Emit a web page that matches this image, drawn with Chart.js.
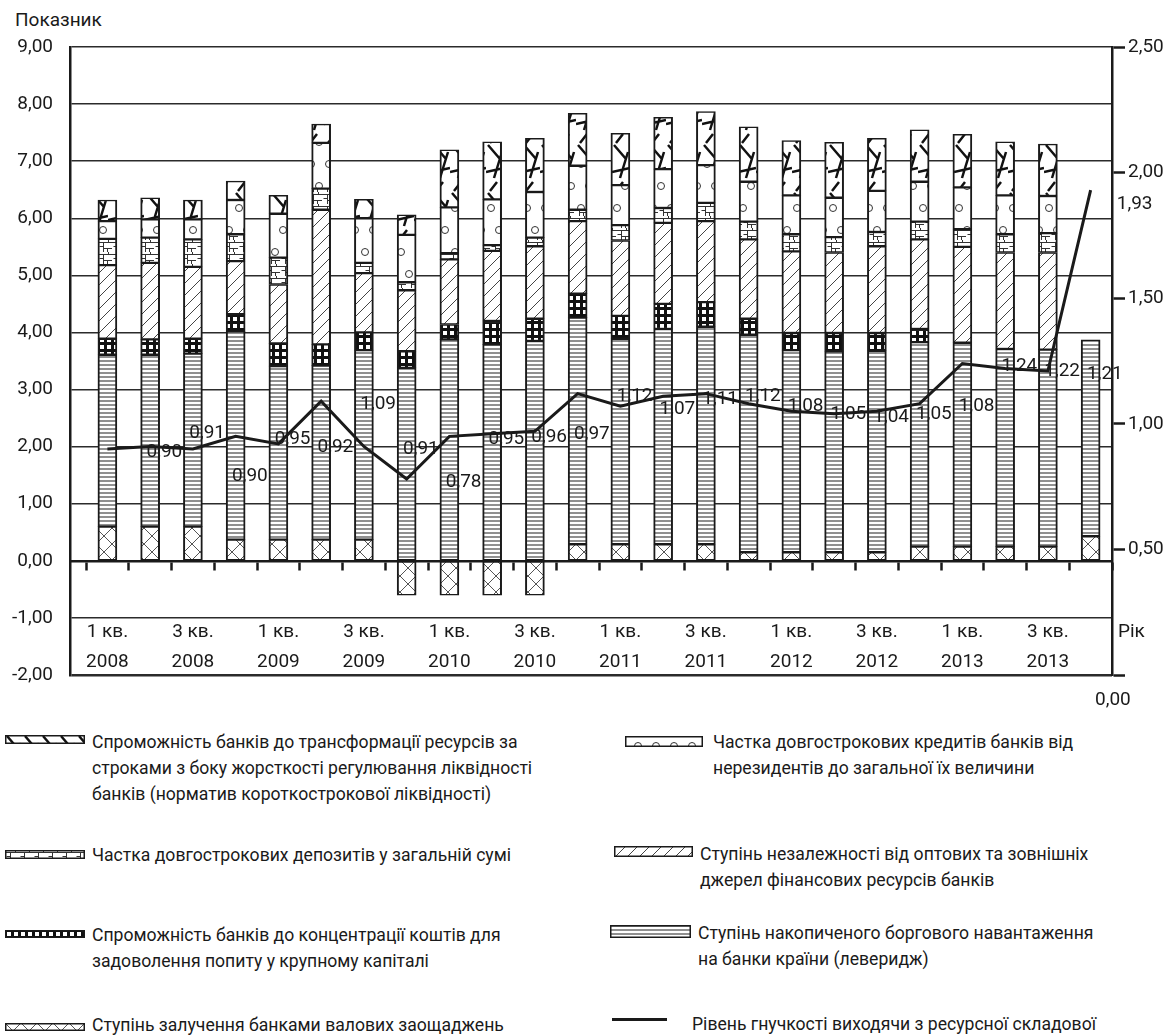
<!DOCTYPE html>
<html lang="uk">
<head>
<meta charset="utf-8">
<title>Рівень гнучкості банків виходячи з ресурсної складової</title>
<script src="https://cdn.jsdelivr.net/npm/chart.js@4.4.1/dist/chart.umd.min.js"></script>
<style>
  html, body { margin: 0; padding: 0; background: #fff; }
  #page { position: relative; width: 1172px; height: 1035px; overflow: hidden;
          font-family: Roboto, "Liberation Sans", sans-serif; color: #1a1a1a; }
  #chartBox { position: absolute; left: 0; top: 0; width: 1172px; height: 720px; }
  #yTitle { position: absolute; left: 15px; top: 8px; font-size: 19px; line-height: 24px; }
  .leg { position: absolute; font-size: 17.6px; line-height: 26px; white-space: nowrap; }
  .sw { position: absolute; display: block; }
</style>
</head>
<body>
<div id="page">
  <div id="yTitle">Показник</div>
  <div id="chartBox"><canvas id="c" width="1172" height="720"></canvas></div>
</div>
<script>
// Quarters 2008 Q1 – 2013 Q4
const quarters = ['1 кв.', '2 кв.', '3 кв.', '4 кв.', '1 кв.', '2 кв.', '3 кв.', '4 кв.',
                  '1 кв.', '2 кв.', '3 кв.', '4 кв.', '1 кв.', '2 кв.', '3 кв.', '4 кв.',
                  '1 кв.', '2 кв.', '3 кв.', '4 кв.', '1 кв.', '2 кв.', '3 кв.', '4 кв.'];
const years = ['2008', '2008', '2008', '2008', '2009', '2009', '2009', '2009',
               '2010', '2010', '2010', '2010', '2011', '2011', '2011', '2011',
               '2012', '2012', '2012', '2012', '2013', '2013', '2013', '2013'];

// Stacked components (left axis), bottom to top
const savingsShare = [0.60, 0.60, 0.60, 0.37, 0.37, 0.37, 0.37, -0.60, -0.60, -0.60, -0.60, 0.29,
                      0.29, 0.29, 0.29, 0.15, 0.15, 0.15, 0.15, 0.25, 0.25, 0.25, 0.25, 0.43];
const leverage = [3.01, 3.01, 3.03, 3.65, 3.04, 3.05, 3.32, 3.38, 3.88, 3.79, 3.85, 3.97,
                  3.60, 3.77, 3.81, 3.81, 3.54, 3.52, 3.53, 3.58, 3.57, 3.46, 3.45, 3.44];
const capitalConcentration = [0.28, 0.27, 0.26, 0.30, 0.40, 0.37, 0.31, 0.29, 0.26, 0.41, 0.39, 0.42,
                              0.40, 0.44, 0.43, 0.28, 0.30, 0.32, 0.31, 0.23, 0, 0, 0, null];
const independence = [1.29, 1.34, 1.26, 0.93, 1.03, 2.36, 1.04, 1.07, 1.14, 1.23, 1.27, 1.27,
                      1.32, 1.42, 1.42, 1.39, 1.43, 1.41, 1.52, 1.57, 1.68, 1.69, 1.70, null];
const longDeposits = [0.46, 0.44, 0.48, 0.47, 0.47, 0.37, 0.18, 0.14, 0.11, 0.10, 0.15, 0.20,
                      0.27, 0.26, 0.32, 0.31, 0.30, 0.27, 0.25, 0.31, 0.31, 0.32, 0.34, null];
const nonResidentLoans = [0.31, 0.32, 0.35, 0.60, 0.77, 0.80, 0.78, 0.83, 0.80, 0.80, 0.80, 0.77,
                          0.70, 0.68, 0.66, 0.70, 0.68, 0.69, 0.72, 0.70, 0.73, 0.68, 0.65, null];
const maturityTransformation = [0.37, 0.38, 0.34, 0.33, 0.32, 0.33, 0.33, 0.35, 1.01, 1.01, 0.94, 0.92,
                                0.91, 0.91, 0.94, 0.96, 0.96, 0.97, 0.92, 0.91, 0.93, 0.94, 0.91, null];

// Flexibility level (right axis)
const flexibility = [0.90, 0.91, 0.90, 0.95, 0.92, 1.09, 0.91, 0.78, 0.95, 0.96, 0.97, 1.12,
                     1.07, 1.11, 1.12, 1.08, 1.05, 1.04, 1.05, 1.08, 1.24, 1.22, 1.21, 1.93];

const leftTicks = { min: -2, max: 9, step: 1 };
const rightTicks = { min: 0, max: 2.5, step: 0.5 };

const seriesNames = {
  maturityTransformation: 'Спроможність банків до трансформації ресурсів за строками з боку жорсткості регулювання ліквідності банків (норматив короткострокової ліквідності)',
  nonResidentLoans: 'Частка довгострокових кредитів банків від нерезидентів до загальної їх величини',
  longDeposits: 'Частка довгострокових депозитів у загальній сумі',
  independence: 'Ступінь незалежності від оптових та зовнішніх джерел фінансових ресурсів банків',
  capitalConcentration: 'Спроможність банків до концентрації коштів для задоволення попиту у крупному капіталі',
  leverage: 'Ступінь накопиченого боргового навантаження на банки країни (леверидж)',
  savingsShare: 'Ступінь залучення банками валових заощаджень',
  flexibility: 'Рівень гнучкості виходячи з ресурсної складової'
};

const fmt = v => v.toFixed(2).replace('.', ',');
const INK = '#1a1a1a';

// ---- monochrome fill patterns ----
function makeTile(kind) {
  const sizes = { cross: [16, 16], hlines: [4, 4], grid: [7, 7], diag: [12, 12],
                  brick: [14, 12], circles: [18, 44], random: [18, 48] };
  const [w, h] = sizes[kind];
  const t = document.createElement('canvas');
  t.width = w; t.height = h;
  const g = t.getContext('2d');
  g.fillStyle = '#fff'; g.fillRect(0, 0, w, h);
  g.strokeStyle = '#333'; g.lineWidth = 1;
  const seg = (pts) => { g.beginPath(); for (let i = 0; i < pts.length; i += 4) { g.moveTo(pts[i], pts[i + 1]); g.lineTo(pts[i + 2], pts[i + 3]); } g.stroke(); };
  switch (kind) {
    case 'cross':
      g.strokeStyle = '#555';
      seg([0, 0, w, h, w, 0, 0, h]);
      break;
    case 'hlines':
      g.fillStyle = '#909090'; g.fillRect(0, 0, w, 2);
      break;
    case 'grid':
      g.fillStyle = '#111'; g.fillRect(0, 0, w, h);
      g.fillStyle = '#fff'; g.fillRect(2, 2, 4, 4);
      break;
    case 'diag':
      g.strokeStyle = '#444';
      seg([0, h, w, 0, -1, 1, 1, -1, w - 1, h + 1, w + 1, h - 1]);
      break;
    case 'brick':
      seg([0, 2.5, 14, 2.5, 5.5, 2.5, 5.5, 12, 5.5, 8.5, 14, 8.5, 10.5, 0, 10.5, 2.5, 1.5, 6.5, 5.5, 6.5, 9.5, 8.5, 9.5, 12]);
      break;
    case 'circles':
      g.beginPath(); g.arc(13, 10, 3.5, 0, 2 * Math.PI); g.stroke();
      g.beginPath(); g.arc(5, 32, 3.5, 0, 2 * Math.PI); g.stroke();
      break;
    case 'random':
      g.strokeStyle = '#111'; g.lineWidth = 2.5;
      seg([2, 1, 14, 15, 16, 8, 8, 34, 0, 28, 18, 24, 4, 47, 11, 38]);
      break;
  }
  return t;
}
const patternFor = (ctx, kind) => ctx.createPattern(makeTile(kind), 'repeat');

const canvas = document.getElementById('c');
const ctx = canvas.getContext('2d');

const stackOrder = [
  ['savingsShare', savingsShare, 'cross'],
  ['leverage', leverage, 'hlines'],
  ['capitalConcentration', capitalConcentration, 'grid'],
  ['independence', independence, 'diag'],
  ['longDeposits', longDeposits, 'brick'],
  ['nonResidentLoans', nonResidentLoans, 'circles'],
  ['maturityTransformation', maturityTransformation, 'random']
];

const toPoints = arr => arr.map((v, i) => ({ x: i, y: v }));

const datasets = stackOrder.map(([key, arr, kind]) => ({
  type: 'bar',
  label: seriesNames[key],
  data: toPoints(arr),
  yAxisID: 'y',
  backgroundColor: patternFor(ctx, kind),
  borderColor: INK,
  borderWidth: { top: 1.5, bottom: 1.5, left: 2, right: 2 },
  borderSkipped: false,
  barThickness: 19,
  order: 1
}));

datasets.push({
  type: 'line',
  label: seriesNames.flexibility,
  data: toPoints(flexibility),
  yAxisID: 'y2',
  borderColor: INK,
  borderWidth: 3,
  pointRadius: 0,
  tension: 0,
  fill: false,
  order: 0
});
const lineIndex = datasets.length - 1;

// value labels sit to the right of each point of the line
const labelShift = { default: [57, 3], 1: [57, -13], 2: [57, 27], 23: [44, 14] };

const extras = {
  id: 'extras',
  afterDatasetsDraw(chart) {
    const c = chart.ctx;
    const meta = chart.getDatasetMeta(lineIndex);
    c.save();
    c.font = '19px Roboto';
    c.fillStyle = INK;
    c.textAlign = 'center';
    c.textBaseline = 'middle';
    meta.data.forEach((pt, i) => {
      const [dx, dy] = labelShift[i] || labelShift.default;
      c.fillText(fmt(flexibility[i]), pt.x + dx, pt.y + dy);
    });
    c.restore();
  },
  afterDraw(chart) {
    const c = chart.ctx;
    const y = chart.scales.y, y2 = chart.scales.y2;
    c.save();
    c.font = '19px Roboto';
    c.fillStyle = INK;
    c.textBaseline = 'middle';
    c.textAlign = 'left';
    // caption of the period axis
    c.fillText('Рік', chart.chartArea.right + 6, y.getPixelForValue(0) + 71);
    // zero of the right axis, set below the frame
    c.fillText(fmt(0), y2.left - 17, y2.getPixelForValue(0) + 25);
    c.restore();
  }
};

Chart.defaults.font.family = 'Roboto';
Chart.defaults.font.size = 19;
Chart.defaults.color = INK;

new Chart(ctx, {
  type: 'bar',
  data: { datasets },
  plugins: [extras],
  options: {
    responsive: false,
    animation: false,
    events: [],
    devicePixelRatio: 1,
    layout: { padding: { top: 47, bottom: 45, left: 0, right: 0 } },
    plugins: { legend: { display: false }, tooltip: { enabled: false }, title: { display: false } },
    scales: {
      x: {
        type: 'linear',
        position: { y: 0 },
        min: -0.875,
        max: quarters.length - 0.5,
        stacked: true,
        offset: false,
        afterBuildTicks: s => {
          const t = [];
          for (let k = -1; k <= quarters.length * 2 - 1; k++) t.push({ value: k / 2 });
          s.ticks = t;
        },
        grid: {
          offset: false,
          drawOnChartArea: false,
          drawTicks: true,
          tickLength: 8,
          tickWidth: 2.5,
          tickColor: c => (c.tick && Number.isInteger(c.tick.value)) ? 'rgba(0,0,0,0)' : INK
        },
        border: { display: true, color: INK, width: 2.5 },
        ticks: {
          autoSkip: false,
          maxRotation: 0,
          minRotation: 0,
          padding: 48,
          color: INK,
          font: { size: 19, lineHeight: 1.58 },
          callback: v => (Number.isInteger(v) && v % 2 === 0) ? [quarters[v], years[v]] : ''
        }
      },
      y: {
        type: 'linear',
        position: 'left',
        stacked: true,
        min: leftTicks.min,
        max: leftTicks.max,
        afterFit: s => { s.width = 70; },
        grid: {
          color: '#2b2b2b',
          lineWidth: c => (c.tick && c.tick.value === leftTicks.min) ? 2.5 : 1.5,
          drawTicks: false
        },
        border: { display: true, color: INK, width: 2.5 },
        ticks: { stepSize: leftTicks.step, padding: 17, color: INK, callback: v => fmt(v) }
      },
      y2: {
        type: 'linear',
        position: 'right',
        min: rightTicks.min,
        max: rightTicks.max,
        afterFit: s => { s.width = 60; },
        grid: { drawOnChartArea: false, drawTicks: true, tickLength: 13, tickWidth: 2.5, tickColor: INK },
        border: { display: true, color: INK, width: 2.5 },
        ticks: { stepSize: rightTicks.step, padding: 3, color: INK, callback: v => v === 0 ? '' : fmt(v) }
      }
    }
  }
});

// ---- legend ----
const legendLayout = [
  { key: 'maturityTransformation', kind: 'random', sw: [5, 735, 80, 9], tx: 92, ty: 729, wrap: [6, 6] },
  { key: 'longDeposits', kind: 'brick', sw: [5, 850, 80, 9], tx: 92, ty: 842 },
  { key: 'capitalConcentration', kind: 'grid', sw: [5, 930, 80, 8], tx: 92, ty: 922, wrap: [6] },
  { key: 'savingsShare', kind: 'cross', sw: [5, 1023, 80, 8], tx: 92, ty: 1012 },
  { key: 'nonResidentLoans', kind: 'circles', sw: [625, 736, 78, 11], tx: 713, ty: 729, wrap: [5] },
  { key: 'independence', kind: 'diag', sw: [614, 846, 79, 11], tx: 700, ty: 841, wrap: [6] },
  { key: 'leverage', kind: 'hlines', sw: [610, 925, 81, 13], tx: 698, ty: 920, wrap: [4] },
  { key: 'flexibility', kind: 'line', sw: [612, 1018, 55, 3], tx: 692, ty: 1011 }
];

const page = document.getElementById('page');
legendLayout.forEach(item => {
  const [sx, sy, sw, sh] = item.sw;
  const s = document.createElement('canvas');
  s.className = 'sw';
  s.width = sw; s.height = sh;
  s.style.left = sx + 'px'; s.style.top = sy + 'px';
  const g = s.getContext('2d');
  if (item.kind === 'line') {
    g.fillStyle = INK; g.fillRect(0, 0, sw, sh);
  } else {
    g.fillStyle = patternFor(g, item.kind); g.fillRect(0, 0, sw, sh);
    g.strokeStyle = INK; g.lineWidth = 1.5; g.strokeRect(0.75, 0.75, sw - 1.5, sh - 1.5);
  }
  page.appendChild(s);

  const words = seriesNames[item.key].split(' ');
  const lines = [];
  let pos = 0;
  (item.wrap || []).forEach(n => { lines.push(words.slice(pos, pos + n).join(' ')); pos += n; });
  lines.push(words.slice(pos).join(' '));
  const d = document.createElement('div');
  d.className = 'leg';
  d.style.left = item.tx + 'px'; d.style.top = item.ty + 'px';
  lines.forEach((ln, i) => {
    if (i) d.appendChild(document.createElement('br'));
    d.appendChild(document.createTextNode(ln));
  });
  page.appendChild(d);
});
</script>
</body>
</html>
